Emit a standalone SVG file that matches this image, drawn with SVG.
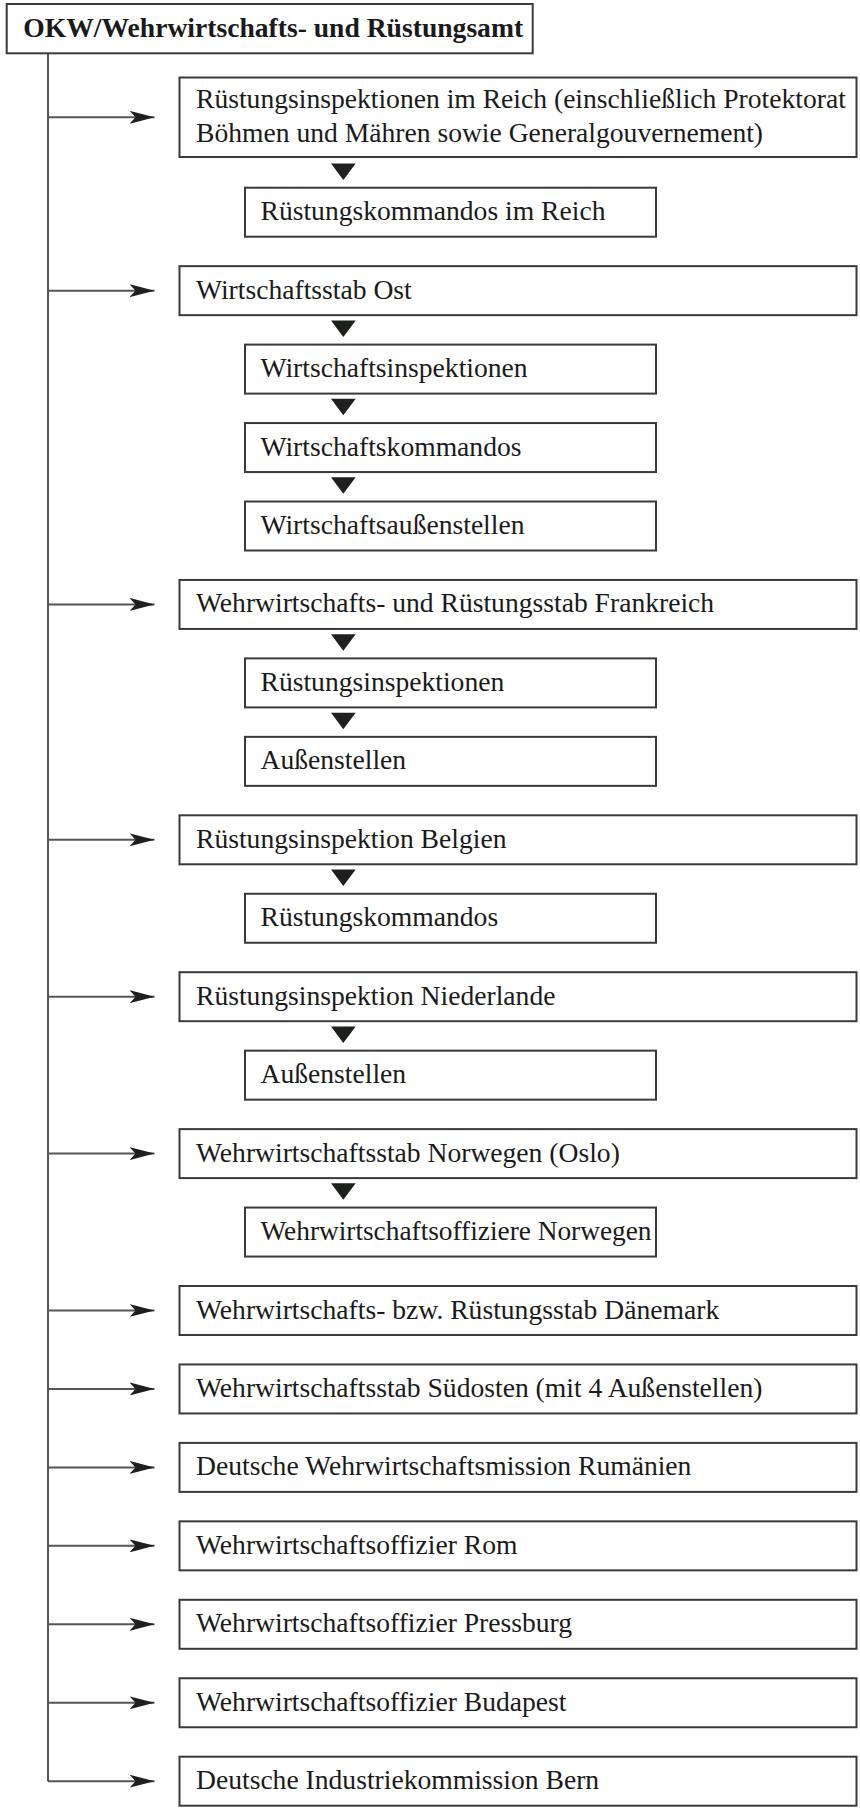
<svg xmlns="http://www.w3.org/2000/svg" width="860" height="1809" viewBox="0 0 860 1809">
<style>
.box{fill:#fff;stroke:#3a3a3a;stroke-width:2}
.t{font-family:"Liberation Serif","Times New Roman",serif;font-size:27.6px;fill:#1a1a1a}
.b{font-weight:bold}
.ln{stroke:#555;stroke-width:2;fill:none}
.tri{fill:#1e201e}
</style>
<defs>
<marker id="ah" markerUnits="userSpaceOnUse" viewBox="0 0 25 13" refX="25" refY="6.5" markerWidth="25" markerHeight="13" orient="auto">
<path d="M0,0 L25,6.5 L0,13 L6,6.5 Z" fill="#1e201e"/>
</marker>
</defs>
<rect width="860" height="1809" fill="#fff"/>
<g id="connectors">
<path class="ln" d="M48,53.3 V1781.2"/>
<path class="ln" d="M48,117.3 H154.5" marker-end="url(#ah)"/>
<path class="ln" d="M48,290.65 H154.5" marker-end="url(#ah)"/>
<path class="ln" d="M48,604.45 H154.5" marker-end="url(#ah)"/>
<path class="ln" d="M48,839.8 H154.5" marker-end="url(#ah)"/>
<path class="ln" d="M48,996.7 H154.5" marker-end="url(#ah)"/>
<path class="ln" d="M48,1153.6 H154.5" marker-end="url(#ah)"/>
<path class="ln" d="M48,1310.5 H154.5" marker-end="url(#ah)"/>
<path class="ln" d="M48,1388.95 H154.5" marker-end="url(#ah)"/>
<path class="ln" d="M48,1467.4 H154.5" marker-end="url(#ah)"/>
<path class="ln" d="M48,1545.85 H154.5" marker-end="url(#ah)"/>
<path class="ln" d="M48,1624.3 H154.5" marker-end="url(#ah)"/>
<path class="ln" d="M48,1702.75 H154.5" marker-end="url(#ah)"/>
<path class="ln" d="M48,1781.2 H154.5" marker-end="url(#ah)"/>
<polygon class="tri" points="331,163.5 355.7,163.5 343.3,180"/>
<polygon class="tri" points="331,320.4 355.7,320.4 343.3,336.9"/>
<polygon class="tri" points="331,398.85 355.7,398.85 343.3,415.35"/>
<polygon class="tri" points="331,477.3 355.7,477.3 343.3,493.8"/>
<polygon class="tri" points="331,634.2 355.7,634.2 343.3,650.7"/>
<polygon class="tri" points="331,712.65 355.7,712.65 343.3,729.15"/>
<polygon class="tri" points="331,869.55 355.7,869.55 343.3,886.05"/>
<polygon class="tri" points="331,1026.45 355.7,1026.45 343.3,1042.95"/>
<polygon class="tri" points="331,1183.35 355.7,1183.35 343.3,1199.85"/>
</g>
<g id="n-okw"><rect class="box" x="6.7" y="4" width="526" height="49.3"/><text class="t b" x="23.3" y="36.5">OKW/Wehrwirtschafts- und Rüstungsamt</text></g>
<g id="n-ri-reich"><rect class="box" x="179.5" y="77.5" width="677" height="79.5"/><text class="t" x="196" y="108.3">Rüstungsinspektionen im Reich (einschließlich Protektorat</text><text class="t" x="196" y="141.7">Böhmen und Mähren sowie Generalgouvernement)</text></g>
<g id="n-rk-reich"><rect class="box" x="245" y="187.7" width="411" height="49"/><text class="t" x="260.5" y="220.2">Rüstungskommandos im Reich</text></g>
<g id="n-ost"><rect class="box" x="179.5" y="266.15" width="677" height="49"/><text class="t" x="196" y="298.65">Wirtschaftsstab Ost</text></g>
<g id="n-wi"><rect class="box" x="245" y="344.6" width="411" height="49"/><text class="t" x="260.5" y="377.1">Wirtschaftsinspektionen</text></g>
<g id="n-wk"><rect class="box" x="245" y="423.05" width="411" height="49"/><text class="t" x="260.5" y="455.55">Wirtschaftskommandos</text></g>
<g id="n-wa"><rect class="box" x="245" y="501.5" width="411" height="49"/><text class="t" x="260.5" y="534">Wirtschaftsaußenstellen</text></g>
<g id="n-fr"><rect class="box" x="179.5" y="579.95" width="677" height="49"/><text class="t" x="196" y="612.45">Wehrwirtschafts- und Rüstungsstab Frankreich</text></g>
<g id="n-fr-ri"><rect class="box" x="245" y="658.4" width="411" height="49"/><text class="t" x="260.5" y="690.9">Rüstungsinspektionen</text></g>
<g id="n-fr-as"><rect class="box" x="245" y="736.85" width="411" height="49"/><text class="t" x="260.5" y="769.35">Außenstellen</text></g>
<g id="n-be"><rect class="box" x="179.5" y="815.3" width="677" height="49"/><text class="t" x="196" y="847.8">Rüstungsinspektion Belgien</text></g>
<g id="n-be-rk"><rect class="box" x="245" y="893.75" width="411" height="49"/><text class="t" x="260.5" y="926.25">Rüstungskommandos</text></g>
<g id="n-nl"><rect class="box" x="179.5" y="972.2" width="677" height="49"/><text class="t" x="196" y="1004.7">Rüstungsinspektion Niederlande</text></g>
<g id="n-nl-as"><rect class="box" x="245" y="1050.65" width="411" height="49"/><text class="t" x="260.5" y="1083.15">Außenstellen</text></g>
<g id="n-no"><rect class="box" x="179.5" y="1129.1" width="677" height="49"/><text class="t" x="196" y="1161.6">Wehrwirtschaftsstab Norwegen (Oslo)</text></g>
<g id="n-no-wo"><rect class="box" x="245" y="1207.55" width="411" height="49"/><text class="t" x="260.5" y="1240.05" textLength="391" lengthAdjust="spacingAndGlyphs">Wehrwirtschaftsoffiziere Norwegen</text></g>
<g id="n-dk"><rect class="box" x="179.5" y="1286" width="677" height="49"/><text class="t" x="196" y="1318.5">Wehrwirtschafts- bzw. Rüstungsstab Dänemark</text></g>
<g id="n-so"><rect class="box" x="179.5" y="1364.45" width="677" height="49"/><text class="t" x="196" y="1396.95">Wehrwirtschaftsstab Südosten (mit 4 Außenstellen)</text></g>
<g id="n-ro"><rect class="box" x="179.5" y="1442.9" width="677" height="49"/><text class="t" x="196" y="1475.4">Deutsche Wehrwirtschaftsmission Rumänien</text></g>
<g id="n-rom"><rect class="box" x="179.5" y="1521.35" width="677" height="49"/><text class="t" x="196" y="1553.85">Wehrwirtschaftsoffizier Rom</text></g>
<g id="n-pr"><rect class="box" x="179.5" y="1599.8" width="677" height="49"/><text class="t" x="196" y="1632.3">Wehrwirtschaftsoffizier Pressburg</text></g>
<g id="n-bu"><rect class="box" x="179.5" y="1678.25" width="677" height="49"/><text class="t" x="196" y="1710.75">Wehrwirtschaftsoffizier Budapest</text></g>
<g id="n-bern"><rect class="box" x="179.5" y="1756.7" width="677" height="49"/><text class="t" x="196" y="1789.2">Deutsche Industriekommission Bern</text></g>
</svg>
